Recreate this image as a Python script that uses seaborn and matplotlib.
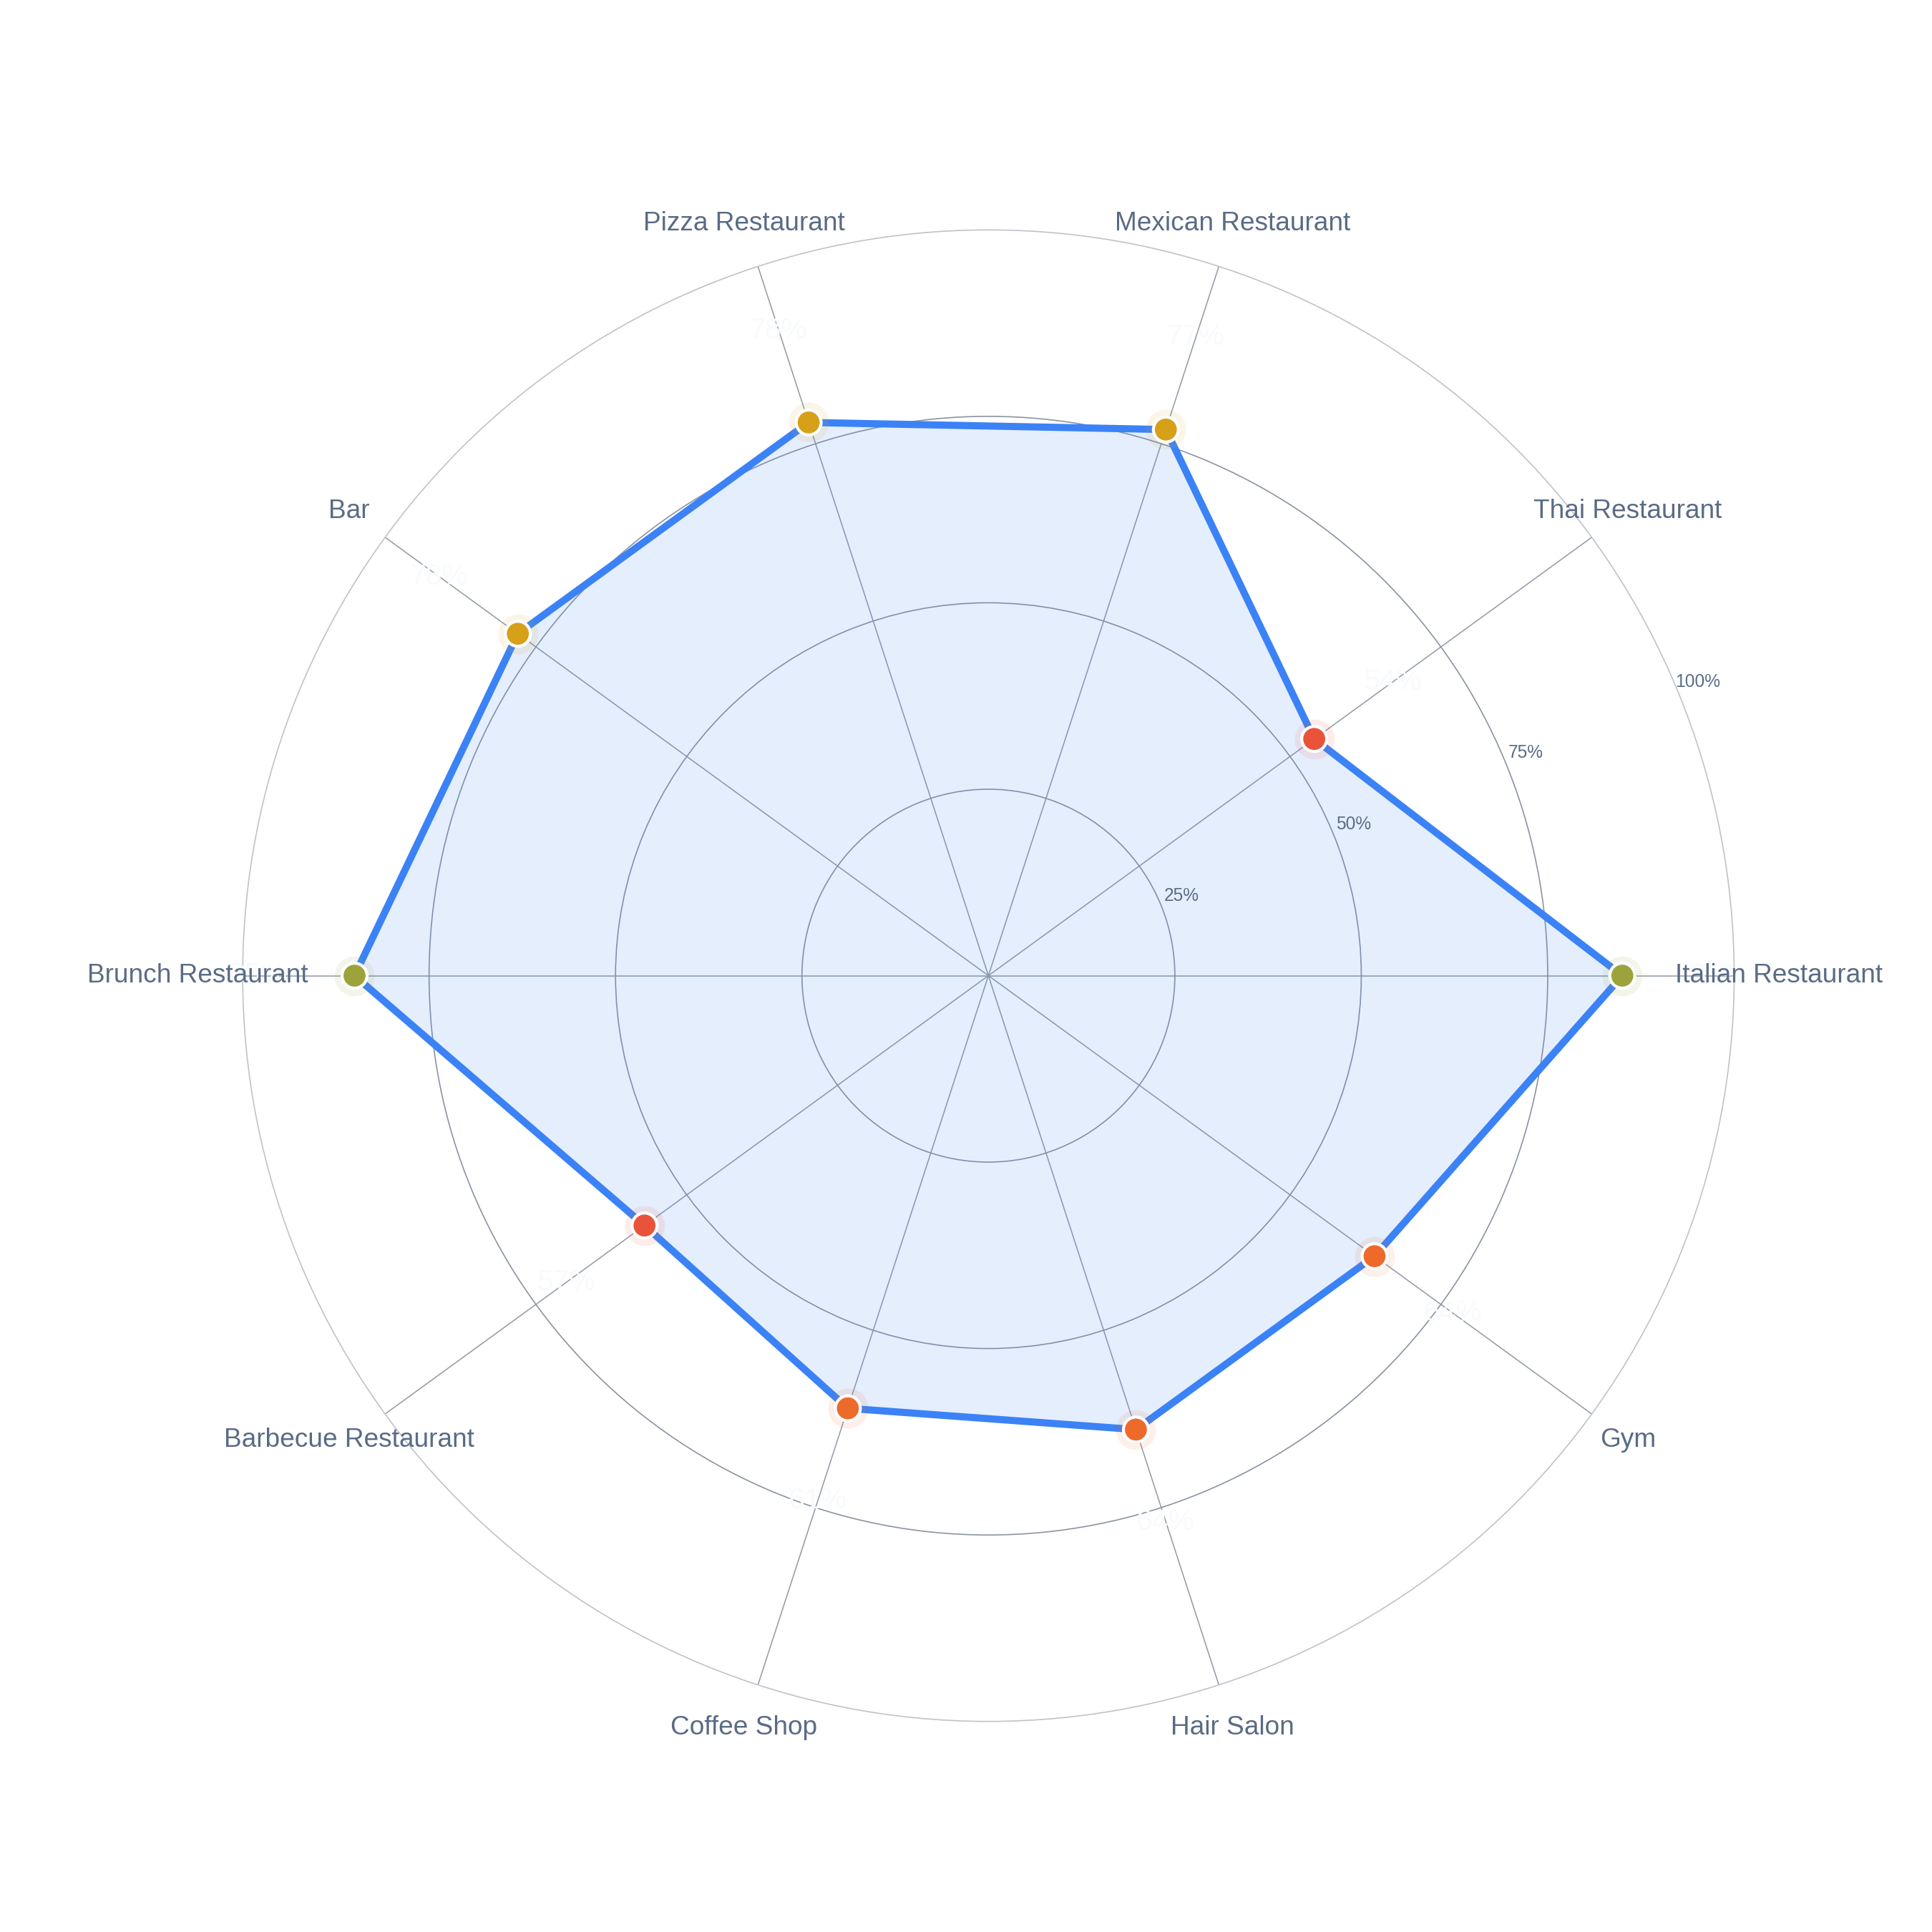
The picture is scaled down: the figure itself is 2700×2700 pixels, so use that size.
import numpy as np
import pandas as pd
import matplotlib
matplotlib.use("Agg")
import matplotlib.pyplot as plt
import seaborn as sns

categories = ["Italian Restaurant", "Thai Restaurant", "Mexican Restaurant", "Pizza Restaurant",
              "Bar", "Brunch Restaurant", "Barbecue Restaurant", "Coffee Shop", "Hair Salon", "Gym"]
values = [85, 54, 77, 78, 78, 85, 57, 61, 64, 64]
radial_ticks = [25, 50, 75, 100]
radial_tick_labels = ["25%", "50%", "75%", "100%"]

def point_color(v):
    if v >= 80:
        return "#9ca33a"
    if v >= 70:
        return "#d6a018"
    if v >= 60:
        return "#ee6a2a"
    return "#e8533a"

sns.set_theme(style="white")
plt.rcParams["font.family"] = ["Liberation Sans", "DejaVu Sans"]

n = len(categories)
theta = np.arange(n) * 2 * np.pi / n
df = pd.DataFrame({"theta": theta, "value": values, "category": categories})
df["color"] = [point_color(v) for v in values]

fig = plt.figure(figsize=(9, 9), dpi=300)
ax = fig.add_axes([0.1256, 0.109, 0.772, 0.772], projection="polar")
ax.set_ylim(0, 100)

text_col = "#5a6b85"
grid_col = "#8c94a1"

# grid
ax.set_xticks(theta)
ax.set_xticklabels([])
ax.set_yticks([25, 50, 75])
ax.set_yticklabels([])
ax.grid(True, color=grid_col, linewidth=0.4)
ax.xaxis.grid(True, color="#959ca8", linewidth=0.38)
ax.spines["polar"].set_color("#bfc3ca")
ax.spines["polar"].set_linewidth(0.4)
ax.set_facecolor("white")

# closed polygon
th_c = np.append(theta, theta[0] + 2 * np.pi)
v_c = np.append(values, values[0])
ax.fill(th_c, v_c, color="#3b82f6", alpha=0.13, zorder=2, linewidth=0)
sns.lineplot(x=th_c, y=v_c, sort=False, estimator=None, ax=ax,
             color="#3b82f6", linewidth=2.4, zorder=3)

# halos and markers
for _, row in df.iterrows():
    ax.scatter(row["theta"], row["value"], s=180, color=row["color"], alpha=0.1,
               linewidths=0, zorder=4)
sns.scatterplot(data=df, x="theta", y="value", hue="category",
                palette=dict(zip(df["category"], df["color"])),
                s=70, edgecolor="white", linewidth=1.0, ax=ax, legend=False, zorder=5)
ax.set_xlabel("")
ax.set_ylabel("")
ax.set_ylim(0, 100)

# value labels
for t, v in zip(theta, values):
    ax.text(t, v + 13, f"{v}%", ha="center", va="center", fontsize=9.8,
            color="#f8fafc", zorder=6, clip_on=False)

# category labels
for t, c in zip(theta, categories):
    ax.text(t, 106, c, ha="center", va="center", fontsize=8.9, color=text_col,
            zorder=7, clip_on=False)

# radial tick labels
ang = np.deg2rad(22.5)
for r, lab in zip(radial_ticks, radial_tick_labels):
    ax.text(ang, r + 3, lab, ha="center", va="center", fontsize=5.9,
            color=text_col, zorder=7, clip_on=False)

fig.savefig("out.png", dpi=300, facecolor="white")
